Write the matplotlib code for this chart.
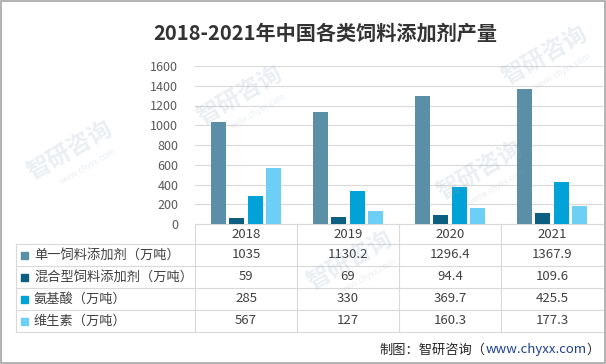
import matplotlib
matplotlib.use("Agg")
import matplotlib.pyplot as plt
import numpy as np
from matplotlib.transforms import blended_transform_factory
from matplotlib.patches import Rectangle

plt.rcParams["font.family"] = ["Noto Sans CJK SC", "DejaVu Sans"]

years = ["2018", "2019", "2020", "2021"]
series_names = ["单一饲料添加剂（万吨）", "混合型饲料添加剂（万吨）", "氨基酸（万吨）", "维生素（万吨）"]
single = [1035, 1130.2, 1296.4, 1367.9]
mixed = [59, 69, 94.4, 109.6]
amino = [285, 330, 369.7, 425.5]
vitamin = [567, 127, 160.3, 177.3]
series_values = [single, mixed, amino, vitamin]
value_labels = [
    ["1035", "1130.2", "1296.4", "1367.9"],
    ["59", "69", "94.4", "109.6"],
    ["285", "330", "369.7", "425.5"],
    ["567", "127", "160.3", "177.3"],
]
colors = ["#5b8fa8", "#0c5f80", "#00a2d8", "#6dcff6"]

W, H = 606, 364
fig = plt.figure(figsize=(W / 100, H / 100), dpi=100)
fig.patch.set_facecolor("white")


def fy(y):
    return 1 - y / H


def fx(x):
    return x / W


ax = fig.add_axes([fx(195), fy(224), fx(603) - fx(195), fy(66) - fy(224)])
x = np.arange(len(years))
step = 0.182
width = 0.148
for i, vals in enumerate(series_values):
    ax.bar(x + (i - 1.5) * step, vals, width, color=colors[i], zorder=3)

ax.set_xlim(-0.5, 3.5)
ax.set_ylim(0, 1600)
ax.set_yticks(range(0, 1601, 200))
ax.yaxis.grid(True, color="#d9d9d9", linewidth=0.8, zorder=0)
ax.tick_params(axis="y", length=0, pad=12, labelsize=9, labelcolor="#595959")
ax.tick_params(axis="x", length=0, labelbottom=False)
for side in ["top", "right", "left"]:
    ax.spines[side].set_visible(False)
ax.spines["bottom"].set_color("#d9d9d9")
ax.patch.set_alpha(0)

# data table under the chart
line_c = "#d9d9d9"
tb = blended_transform_factory(ax.transData, fig.transFigure)
for b in [-0.5, 0.5, 1.5, 2.5]:
    fig.add_artist(plt.Line2D([b, b], [fy(224), fy(332)], transform=tb, color=line_c, lw=0.8))
fig.add_artist(plt.Line2D([fx(16), fx(16)], [fy(244), fy(332)], color=line_c, lw=0.8))
for yy in [244, 266, 288, 310, 332]:
    fig.add_artist(plt.Line2D([fx(16), fx(603)], [fy(yy), fy(yy)], color=line_c, lw=0.8))

for j, yr in enumerate(years):
    fig.text(j, fy(234), yr, transform=tb, ha="center", va="center", fontsize=9.5, color="#404040")

row_centers = [255, 277, 299, 321]
for i, name in enumerate(series_names):
    yc = row_centers[i]
    fig.add_artist(Rectangle((fx(21), fy(yc + 3.5)), fx(7), 7 / H, color=colors[i],
                             transform=fig.transFigure))
    fig.text(fx(34), fy(yc), name, ha="left", va="center", fontsize=9.5, color="#404040")
    for j in range(len(years)):
        fig.text(j, fy(yc), value_labels[i][j], transform=tb, ha="center", va="center",
                 fontsize=9.5, color="#404040")

# title and source
fig.text(fx(325), fy(33), "2018-2021年中国各类饲料添加剂产量", ha="center", va="center",
         fontsize=14.5, fontweight="bold", color="#333333")
t1 = fig.text(fx(600), fy(350), "）", ha="right", va="center", fontsize=9.5, color="#262626")
fig.canvas.draw()
r = fig.canvas.get_renderer()
bb = t1.get_window_extent(r)
t2 = fig.text(bb.x0 / W, fy(350), "www.chyxx.com", ha="right", va="center", fontsize=9.5,
              color="#1f3f8f")
bb = t2.get_window_extent(r)
fig.text(bb.x0 / W, fy(350), "制图：智研咨询（", ha="right", va="center", fontsize=9.5,
         color="#262626")

# faint watermarks, semi-transparent over everything
for (wx, wy) in [(70, 150), (240, 95), (350, 260), (480, 170), (545, 55)]:
    fig.text(fx(wx), fy(wy), "智研咨询", rotation=30, ha="center", va="center",
             fontsize=17, fontweight="bold", color="#8fa6bb", alpha=0.18)
    fig.text(fx(wx + 18), fy(wy + 16), "www.chyxx.com", rotation=30, ha="center", va="center",
             fontsize=6, color="#8fa6bb", alpha=0.18)

fig.add_artist(Rectangle((0.001, 0.002), 0.997, 0.995, fill=False, edgecolor="#a6a6a6",
                         lw=1.2, transform=fig.transFigure))

fig.savefig("out.png", dpi=100)
